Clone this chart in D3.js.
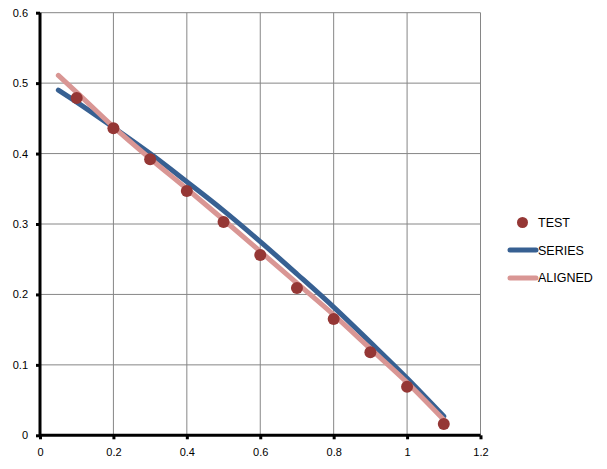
<!DOCTYPE html>
<html><head><meta charset="utf-8">
<script src="https://cdn.jsdelivr.net/npm/d3@7"></script>
<style>body{margin:0;background:#fff}</style>
</head><body>
<svg id="c" width="607" height="469"></svg>
<script>
const testX = [0.1,0.2,0.3,0.4,0.5,0.6,0.7,0.8,0.9,1.0,1.1];
const testY = [0.479,0.436,0.392,0.347,0.303,0.256,0.209,0.165,0.118,0.069,0.016];
const lineX = [0.05,0.1,0.2,0.3,0.4,0.5,0.6,0.7,0.8,0.9,1.0,1.1];
const seriesY = [0.490,0.473,0.437,0.400,0.360,0.319,0.275,0.229,0.182,0.132,0.081,0.027];
const alignedY = [0.511,0.487,0.438,0.393,0.350,0.306,0.261,0.216,0.171,0.123,0.075,0.022];
const xTicks = [0,0.2,0.4,0.6,0.8,1,1.2];
const yTicks = [0,0.1,0.2,0.3,0.4,0.5,0.6];
const legendNames = ["TEST","SERIES","ALIGNED"];

const svg = d3.select("#c");
const x = d3.scaleLinear().domain([0,1.2]).range([40,480.5]);
const y = d3.scaleLinear().domain([0,0.6]).range([435.3,12.7]);
const font = "'Liberation Sans', Arial, sans-serif";

// grid
svg.append("g").selectAll("line").data(xTicks.slice(1)).join("line")
  .attr("x1",d=>x(d)).attr("x2",d=>x(d)).attr("y1",y(0)).attr("y2",y(0.6))
  .attr("stroke","#868686").attr("stroke-width",1);
svg.append("g").selectAll("line").data(yTicks.slice(1)).join("line")
  .attr("x1",x(0)).attr("x2",x(1.2)).attr("y1",d=>y(d)).attr("y2",d=>y(d))
  .attr("stroke","#868686").attr("stroke-width",1);

// axes
const yAxis = svg.append("g").attr("transform",`translate(${x(0)},0)`)
  .call(d3.axisLeft(y).tickValues(yTicks).tickSize(4).tickPadding(8).tickFormat(d3.format("")));
const xAxis = svg.append("g").attr("transform",`translate(0,${y(0)})`)
  .call(d3.axisBottom(x).tickValues(xTicks).tickSize(4).tickPadding(9).tickFormat(d3.format("")));
[xAxis,yAxis].forEach(a=>{
  a.select(".domain").attr("stroke","#000").attr("stroke-width",3);
  a.selectAll(".tick line").attr("stroke","#000").attr("stroke-width",3);
  a.selectAll("text").attr("font-family",font).attr("font-size",11).attr("fill","#000");
});
xAxis.select(".domain").attr("d",`M${x(0)},0H${x(1.2)}`);
yAxis.select(".domain").attr("d",`M0,${y(0)}V${y(0.6)}`);

// lines
const line = d3.line().x(d=>x(d[0])).y(d=>y(d[1])).curve(d3.curveMonotoneX);
svg.append("path").datum(lineX.map((v,i)=>[v,seriesY[i]]))
  .attr("d",line).attr("fill","none").attr("stroke","#376092").attr("stroke-width",5).attr("stroke-linecap","round");
svg.append("path").datum(lineX.map((v,i)=>[v,alignedY[i]]))
  .attr("d",line).attr("fill","none").attr("stroke","#d99694").attr("stroke-width",5).attr("stroke-linecap","round");

// points
svg.append("g").selectAll("circle").data(testX.map((v,i)=>[v,testY[i]])).join("circle")
  .attr("cx",d=>x(d[0])).attr("cy",d=>y(d[1])).attr("r",6).attr("fill","#953735");

// legend
const lg = svg.append("g");
lg.append("circle").attr("cx",522.5).attr("cy",222.5).attr("r",5.5).attr("fill","#953735");
lg.append("line").attr("x1",510).attr("x2",536).attr("y1",250).attr("y2",250)
  .attr("stroke","#376092").attr("stroke-width",5).attr("stroke-linecap","round");
lg.append("line").attr("x1",510).attr("x2",536).attr("y1",278).attr("y2",278)
  .attr("stroke","#d99694").attr("stroke-width",5).attr("stroke-linecap","round");
lg.selectAll("text").data(legendNames).join("text")
  .attr("x",538).attr("y",(d,i)=>222.5+i*27.8).attr("dy","0.35em")
  .attr("font-family",font).attr("font-size",12.5).attr("fill","#000").text(d=>d);
</script>
</body></html>
